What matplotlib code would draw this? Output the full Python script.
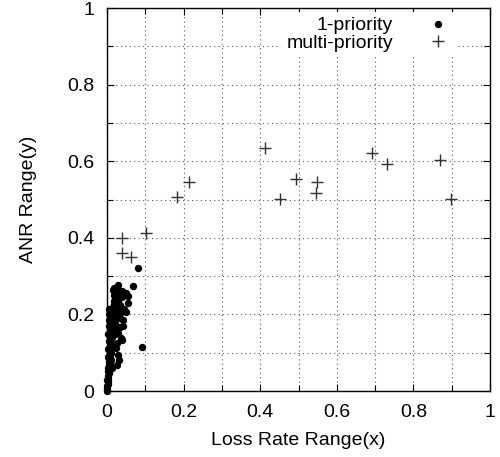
import matplotlib
matplotlib.use("Agg")
import matplotlib.pyplot as plt
from matplotlib.ticker import MultipleLocator

plt.rcParams['font.family'] = ['Liberation Sans', 'DejaVu Sans']

# 1-priority points (Loss Rate Range x, ANR Range y)
single_x = [0.000, 0.001, 0.001, 0.002, 0.002, 0.003, 0.002, 0.004, 0.003, 0.005,
            0.004, 0.006, 0.005, 0.007, 0.006, 0.008, 0.007, 0.009, 0.008, 0.010,
            0.009, 0.011, 0.010, 0.012, 0.011, 0.013, 0.012, 0.014, 0.013, 0.015,
            0.014, 0.016, 0.015, 0.018, 0.017, 0.020, 0.019,
            0.001, 0.002, 0.003, 0.002, 0.004, 0.003, 0.005, 0.004, 0.006, 0.005,
            0.007, 0.008, 0.009, 0.010, 0.011, 0.012, 0.016, 0.018, 0.020, 0.022,
            0.082, 0.028, 0.067, 0.038, 0.023, 0.049, 0.056, 0.030, 0.056, 0.034,
            0.017, 0.037, 0.049, 0.025, 0.043, 0.021, 0.034, 0.017, 0.030, 0.012,
            0.037, 0.038, 0.023, 0.091, 0.030, 0.031, 0.025, 0.011, 0.045, 0.040,
            0.026, 0.019, 0.022, 0.027, 0.033, 0.041, 0.029, 0.024]
single_y = [0.000, 0.005, 0.012, 0.018, 0.025, 0.032, 0.040, 0.046, 0.052, 0.058,
            0.065, 0.072, 0.078, 0.085, 0.092, 0.098, 0.105, 0.112, 0.118, 0.125,
            0.132, 0.138, 0.145, 0.152, 0.160, 0.168, 0.175, 0.182, 0.190, 0.198,
            0.205, 0.212, 0.220, 0.228, 0.235, 0.242, 0.250,
            0.030, 0.060, 0.090, 0.110, 0.130, 0.150, 0.170, 0.185, 0.200, 0.215,
            0.160, 0.140, 0.180, 0.100, 0.080, 0.060, 0.265, 0.190, 0.170, 0.120,
            0.321, 0.277, 0.275, 0.262, 0.251, 0.255, 0.248, 0.238, 0.229, 0.225,
            0.207, 0.207, 0.207, 0.194, 0.185, 0.177, 0.168, 0.159, 0.151, 0.142,
            0.138, 0.133, 0.111, 0.116, 0.094, 0.081, 0.068, 0.064, 0.215, 0.245,
            0.230, 0.270, 0.150, 0.125, 0.190, 0.170, 0.260, 0.212]

# multi-priority points
multi_x = [0.038, 0.101, 0.040, 0.062, 0.184, 0.215, 0.413, 0.452, 0.493,
           0.547, 0.546, 0.691, 0.730, 0.869, 0.897]
multi_y = [0.399, 0.412, 0.361, 0.349, 0.506, 0.545, 0.635, 0.501, 0.553,
           0.547, 0.518, 0.622, 0.594, 0.603, 0.501]

ticks = [0, 0.2, 0.4, 0.6, 0.8, 1.0]
tick_labels = ['0', '0.2', '0.4', '0.6', '0.8', '1']

FS = 14

fig = plt.figure(figsize=(5.00, 4.57), dpi=100)
ax = fig.add_axes([0.214, 0.1444, 0.766, 0.838])

ax.plot(single_x, single_y, linestyle='none', marker='o', markersize=4.3,
        color='black', label='1-priority', zorder=3, clip_on=False)
ax.plot(multi_x, multi_y, linestyle='none', marker='+', markersize=9,
        markeredgewidth=1.0, color='#303030', label='multi-priority', zorder=3)

ax.set_xlim(0, 1)
ax.set_ylim(0, 1)
ax.set_xticks(ticks)
ax.set_yticks(ticks)
ax.set_xticklabels(tick_labels)
ax.set_yticklabels(tick_labels)
ax.xaxis.set_minor_locator(MultipleLocator(0.1))
ax.yaxis.set_minor_locator(MultipleLocator(0.1))
ax.tick_params(which='both', direction='in', top=True, right=True,
               labelsize=FS, length=5, width=0.8)
ax.tick_params(axis='x', pad=9)
ax.tick_params(axis='y', pad=9)
ax.tick_params(which='minor', length=4)
ax.grid(which='both', linestyle=(0, (1, 3)), color='#555555', linewidth=0.8)
for s in ax.spines.values():
    s.set_linewidth(1.0)

ax.set_xlabel('Loss Rate Range(x)', fontsize=FS, labelpad=8)
ax.set_ylabel('ANR Range(y)', fontsize=FS, labelpad=22)

leg = ax.legend(loc='upper right', bbox_to_anchor=(0.914, 0.99),
                markerfirst=False, frameon=True,
                fancybox=False, fontsize=FS, handlelength=1.5,
                handletextpad=1.55, borderaxespad=0.0, labelspacing=0.0,
                borderpad=0.25)
leg.get_frame().set_edgecolor('none')
leg.get_frame().set_facecolor('white')
leg.get_frame().set_alpha(1.0)

fig.savefig('out.png', dpi=100)
